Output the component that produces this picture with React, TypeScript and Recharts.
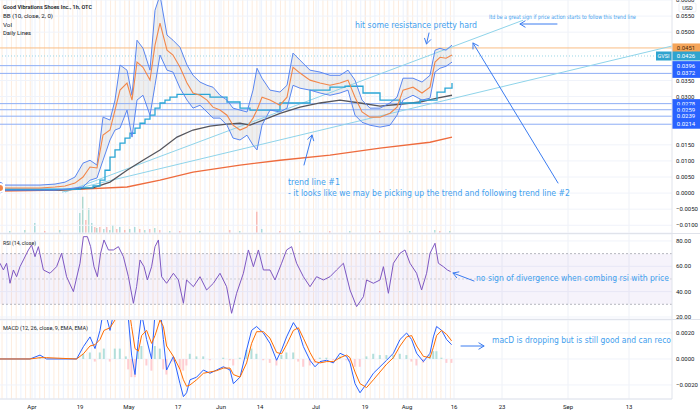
import React from 'react';
import {
  ComposedChart, Line, Area, Bar, Cell, XAxis, YAxis, CartesianGrid, ReferenceLine, ReferenceArea,
} from 'recharts';

// x is a bar index: the plot runs from bar 0 to bar 336 (last bar ~226, rest is future space)
const X_DOMAIN: [number, number] = [0, 336];
const xTicks = [16, 40, 64.5, 89, 110.5, 130, 158, 182.5, 203.5, 227, 251, 284, 314.5];
const xTickLabels = ['Apr', '19', 'May', '17', 'Jun', '14', 'Jul', '19', 'Aug', '16', '23', 'Sep', '13'];

// Bollinger bands (10, close, 2)
const bbBars = [0, 10, 20, 27.5, 32.5, 37.5, 41.5, 45, 48.5, 51.5, 55, 57.5, 60, 63.5, 66, 68.5, 71.5, 75, 77.5, 80,
  83.5, 86.5, 90, 93.5, 96.5, 100, 103.5, 106.5, 110, 113.5, 116.5, 120, 123.5, 126.5, 128.5, 131, 135, 140, 143.5, 146.5,
  150, 155, 160, 165, 170, 174, 177.5, 181, 185, 190, 195, 198.5, 201.5, 206.5, 211, 215, 217.5, 220, 223, 226];
const bbMid = [0.0016, 0.0016, 0.0016, 0.0019, 0.0022, 0.0031, 0.0050, 0.0081, 0.0078, 0.0180,
  0.0196, 0.0258, 0.0320, 0.0342, 0.0289, 0.0407, 0.0391, 0.0351, 0.0460, 0.0528,
  0.0444, 0.0429, 0.0391, 0.0342, 0.0311, 0.0304, 0.0289, 0.0267, 0.0258, 0.0242,
  0.0211, 0.0196, 0.0205, 0.0233, 0.0258, 0.0298, 0.0289, 0.0273, 0.0298, 0.0391,
  0.0373, 0.0351, 0.0342, 0.0335, 0.0342, 0.0351, 0.0298, 0.0252, 0.0236, 0.0236,
  0.0248, 0.0267, 0.0320, 0.0329, 0.0311, 0.0329, 0.0407, 0.0422, 0.0419, 0.0429];
const bbUpper = [0.0025, 0.0025, 0.0025, 0.0028, 0.0034, 0.0050, 0.0093, 0.0102, 0.0087, 0.0236,
  0.0227, 0.0289, 0.0398, 0.0382, 0.0304, 0.0475, 0.0450, 0.0382, 0.0568, 0.0615,
  0.0491, 0.0475, 0.0453, 0.0398, 0.0366, 0.0345, 0.0335, 0.0329, 0.0304, 0.0289,
  0.0264, 0.0258, 0.0252, 0.0320, 0.0388, 0.0357, 0.0320, 0.0314, 0.0335, 0.0435,
  0.0413, 0.0382, 0.0376, 0.0366, 0.0366, 0.0382, 0.0351, 0.0289, 0.0264, 0.0264,
  0.0280, 0.0298, 0.0357, 0.0357, 0.0345, 0.0366, 0.0444, 0.0450, 0.0444, 0.0460];
const bbLower = [0.0009, 0.0009, 0.0009, 0.0009, 0.0012, 0.0016, 0.0019, 0.0040, 0.0047, 0.0102,
  0.0165, 0.0196, 0.0202, 0.0258, 0.0174, 0.0289, 0.0304, 0.0242, 0.0335, 0.0429,
  0.0382, 0.0376, 0.0326, 0.0289, 0.0264, 0.0273, 0.0252, 0.0233, 0.0233, 0.0211,
  0.0171, 0.0165, 0.0180, 0.0149, 0.0134, 0.0211, 0.0258, 0.0252, 0.0264, 0.0335,
  0.0326, 0.0320, 0.0311, 0.0304, 0.0311, 0.0320, 0.0242, 0.0220, 0.0211, 0.0205,
  0.0211, 0.0242, 0.0289, 0.0304, 0.0289, 0.0295, 0.0376, 0.0388, 0.0394, 0.0407];

// daily lines
const cyanBars = [0, 30, 40, 46.5, 50, 52.5, 55, 57.5, 60, 62.5, 65, 67.5, 70, 72.5, 75, 77.5, 80, 82.5, 85, 88.5,
  96.5, 105, 113.5, 120, 125, 130, 140, 155, 165, 172.5, 181.5, 190, 200, 210, 218.5, 222.5, 226];
const cyanVals = [0.0012, 0.0012, 0.0016, 0.0022, 0.0040, 0.0071, 0.0112, 0.0134, 0.0155, 0.0171,
  0.0186, 0.0202, 0.0217, 0.0230, 0.0242, 0.0264, 0.0280, 0.0289, 0.0298, 0.0307,
  0.0307, 0.0298, 0.0283, 0.0264, 0.0258, 0.0258, 0.0280, 0.0320, 0.0329, 0.0332,
  0.0311, 0.0289, 0.0280, 0.0289, 0.0314, 0.0326, 0.0342];
const grayBars = [0, 30, 46.5, 55, 63.5, 71.5, 80, 88.5, 96.5, 105, 113.5, 120, 125, 131.5, 140, 150, 160, 170, 180, 190, 200, 210, 218.5, 226];
const grayVals = [0.0009, 0.0009, 0.0016, 0.0034, 0.0071, 0.0102, 0.0134, 0.0174, 0.0196, 0.0208, 0.0214, 0.0217,
  0.0211, 0.0227, 0.0248, 0.0267, 0.0280, 0.0289, 0.0280, 0.0270, 0.0276, 0.0283, 0.0295, 0.0304];
const redBars = [0, 30, 63.5, 80, 96.5, 120, 140, 165, 190, 215, 226];
const redVals = [0.0006, 0.0009, 0.0019, 0.0040, 0.0065, 0.0087, 0.0102, 0.0118, 0.0140, 0.0158, 0.0174];

// drawn levels and trend lines
const orangeLevels = [0.0451];
const blueLevels = [0.0396, 0.0372, 0.0278, 0.0259, 0.0239, 0.0214];
const lastPrice = 0.0426;
const trendLines = [
  [{ x: 31, y: 0.0003 }, { x: 336, y: 0.0457 }],
  [{ x: 32.5, y: 0.0003 }, { x: 261.5, y: 0.0537 }],
];

// volume (thousands)
const volBars = [5, 12.5, 17.5, 22.5, 30, 40, 41.5, 43, 44.5, 46, 47.5, 48.5, 50, 52, 53.5, 55, 56.5, 58.5, 60, 62.5,
  65, 67.5, 70, 72.5, 75, 77.5, 80, 85, 90, 100, 115, 120, 128.5, 131, 140, 150, 165, 175, 190, 205, 217.5, 220, 225];
const volVals = [56, 84, 280, 56, 84, 560, 1010, 364, 700, 280, 168, 140, 168, 112, 168, 84, 224, 112, 168, 84,
  112, 168, 112, 84, 112, 140, 84, 56, 56, 56, 84, 56, 590, 112, 56, 56, 56, 56, 56, 56, 84, 56, 56];
const volUp = [1, 1, 1, 0, 1, 1, 1, 0, 1, 1, 0, 1, 0, 1, 0, 1, 1, 0, 1, 0,
  1, 1, 0, 1, 0, 1, 0, 1, 0, 1, 0, 1, 0, 1, 0, 1, 0, 1, 0, 1, 1, 0, 1];

// RSI (14, close)
const rsiBars = [0, 1.7, 3.3, 5, 6.7, 8.3, 10, 11.7, 14.2, 15.8, 17.5, 19.2, 21.7, 25, 28.3, 30.8, 33.3, 36.7, 40, 41.7,
  43.7, 45.3, 47, 48.7, 50.3, 52, 54.2, 56.7, 59.2, 61.7, 64.2, 66.7, 68.3, 70, 72, 73.7, 75.8, 77.5, 79.2, 80.8,
  83.3, 86.7, 89.2, 91.7, 93.3, 96.7, 100, 103.3, 106.7, 110, 113.3, 115.8, 118.3, 121.7, 124.2, 126.7, 129.2, 131.7, 135, 137.5,
  140.8, 143.3, 145.8, 148.3, 151.7, 155, 158.3, 161.7, 165, 168.3, 171.7, 175, 178.3, 181.7, 183.3, 186.7, 190, 191.7, 194.2, 196.7,
  200, 202.5, 205, 208.3, 210.8, 213.3, 215, 217.5, 219.2, 221.7, 223.7, 225.3];
const rsiVals = [62.4, 57.1, 62.4, 46.6, 57.1, 51.8, 59.7, 65, 72.9, 76.8, 67.6, 75.5, 57.1, 54.5, 59.7, 70.3, 51.8, 40, 62.4, 83.4,
  83.4, 75.5, 59.7, 51.8, 70.3, 80.8, 72.9, 72.9, 75.5, 67.6, 51.8, 30.8, 43.9, 65, 59.7, 49.2, 59.7, 75.5, 80.8, 51.8,
  46.6, 54.5, 49.2, 30.8, 49.2, 43.9, 51.8, 41.3, 46.6, 54.5, 43.9, 22.9, 38.7, 54.5, 72.9, 59.7, 72.9, 57.1, 57.1, 49.2,
  62.4, 72.9, 75.5, 62.4, 51.8, 43.9, 51.8, 49.2, 51.8, 57.1, 62.4, 41.3, 28.2, 36, 49.2, 46.6, 49.2, 59.7, 38.7, 62.4,
  70.3, 72.9, 62.4, 54.5, 41.3, 54.5, 70.3, 78.2, 62.4, 59.7, 57.1, 55.8];

// MACD (12, 26, close, 9)
const macdBars = [0, 15, 20, 23.3, 38.3, 41.7, 45, 47.5, 50, 52, 55, 57.5, 60, 63, 64.2, 65.8, 67.5, 69.2, 70.8, 73.3,
  75.8, 77.5, 80, 81.7, 83.3, 86.7, 90, 91.7, 93.3, 95, 98.3, 101.7, 105, 108.3, 111.7, 115, 116.7, 120, 123.3, 125.8,
  128.3, 131.7, 135, 138.3, 140.8, 143.3, 146.7, 149.2, 151.7, 155, 157.5, 160, 163.3, 166.7, 170, 173.3, 175, 177.5, 180, 183.3,
  186.7, 190, 193.3, 196.7, 200, 203.3, 205.8, 208.3, 211.7, 215, 216.7, 218.3, 220.8, 223.3, 225.8];
const macdVals = [0, 0, 0.0003, 0, 0, 0.00095, 0.0017, 0.0008, 0.0022, 0.004, 0.0022, 0.004, 0.006, 0.005, 0.0031, 0.0003, -0.0012, 0.0015, 0.0035, 0.0015,
  0, 0.0035, 0.004, 0.0015, -0.00085, 0.0002, -0.0019, -0.0029, -0.0026, -0.0016, -0.0014, -0.00085, -0.0011, -0.00085, -0.0006, -0.00085, -0.0019, -0.0014, 0.0007, 0.0022,
  0.0025, 0.002, 0.0012, -0.0001, 0.0007, 0.0017, 0.0028, 0.0022, 0.00095, -0.0001, -0.0006, -0.0002, -0.0001, -0.0003, 0.00044, 0.0002, -0.0003, -0.0019, -0.0026, -0.0019,
  -0.0011, -0.0006, -0.0001, 0.00044, 0.0015, 0.002, 0.0015, 0.00044, -0.0002, 0.00044, 0.0017, 0.0025, 0.0022, 0.0015, 0.0011];
const signalVals = [0, 0, 0.0001, 0.0001, 0, 0.0004, 0.001, 0.0011, 0.0015, 0.0022, 0.0024, 0.003, 0.0042, 0.0048, 0.0042, 0.0025, 0.0008, 0.0006, 0.0018, 0.0022,
  0.0012, 0.0018, 0.003, 0.0025, 0.001, 0.0002, -0.0008, -0.0016, -0.0021, -0.002, -0.0016, -0.0011, -0.001, -0.0009, -0.0007, -0.0007, -0.0012, -0.0014, -0.0003, 0.0012,
  0.0021, 0.0021, 0.0016, 0.0005, 0.0004, 0.0011, 0.0022, 0.0024, 0.0016, 0.0005, -0.0002, -0.0003, -0.0002, -0.0002, 0.0001, 0.0003, 0.0001, -0.001, -0.0019, -0.0022,
  -0.0016, -0.001, -0.0004, 0.0001, 0.001, 0.0017, 0.0018, 0.001, 0.0002, 0.0001, 0.0009, 0.0018, 0.0022, 0.0019, 0.0014];
const histVals = [0, 0, 0.0001, 0, 0, 0.0004, 0.0005, -0.0002, 0.0005, 0.0008, -0.0002, 0.0008, 0.0008, 0.0002, -0.0008, -0.0014, -0.0014, 0.0006, 0.001, -0.0005,
  -0.0009, 0.001, 0.0008, -0.0008, -0.0012, -0.0002, -0.0008, -0.0009, -0.0005, 0.0004, 0.0002, 0.0002, -0.0001, 0, 0.0001, -0.0001, -0.0005, 0.0001, 0.0007, 0.0008,
  0.0004, -0.0001, -0.0003, -0.0005, 0.0003, 0.0005, 0.0005, -0.0002, -0.0006, -0.0005, -0.0003, 0.0001, 0.0001, -0.0001, 0.0002, -0.0001, -0.0002, -0.0006, -0.0006, 0.0002,
  0.0004, 0.0003, 0.0003, 0.0003, 0.0004, 0.0003, -0.0002, -0.0005, -0.0003, 0.0003, 0.0006, 0.0006, 0.0001, -0.0003, -0.0003];

const priceTicks = [-0.01, -0.005, 0, 0.005, 0.01, 0.015, 0.03, 0.035, 0.05, 0.055, 0.06];

const bbRows = bbBars.map((bar, i) => ({ bar, up: bbUpper[i], mid: bbMid[i], low: bbLower[i], band: [bbLower[i], bbUpper[i]] }));
const pairRows = (bars: number[], vals: number[]) => bars.map((bar, i) => ({ bar, v: vals[i] }));
const cyanRows = pairRows(cyanBars, cyanVals);
const grayRows = pairRows(grayBars, grayVals);
const redRows = pairRows(redBars, redVals);
const volRows = volBars.map((bar, i) => ({ bar, vol: volVals[i], up: volUp[i] === 1 }));
const rsiRows = pairRows(rsiBars, rsiVals);
const macdRows = macdBars.map((bar, i) => ({ bar, macd: macdVals[i], signal: signalVals[i], hist: histVals[i] }));

// one pale line per session (Daily Lines indicator)
const dayLines = Array.from({ length: 96 }, (_, i) => 1 + i * 2.36).filter((d) => d <= 226);

const PLOT_W = 672;
const FONT = 'Roboto, sans-serif';
const NOTE_FONT = "'Liberation Sans Narrow', 'DejaVu Sans Condensed', 'Open Sans', sans-serif";
const TEXT = '#131722';
const NOTE = '#42a0ee';
const ARROW = '#3b7cf0';

const fmt4 = (v: number) => (v < 0 ? '\u2212' + Math.abs(v).toFixed(4) : v.toFixed(4));
const tickStyle = { fontSize: 6, fill: TEXT, fontFamily: FONT };
const barToPx = (b: number) => (b - X_DOMAIN[0]) / (X_DOMAIN[1] - X_DOMAIN[0]) * PLOT_W;

function LevelTag(props: any) {
  const { viewBox, txt, bg, fg, prefix } = props;
  if (!viewBox) return null;
  const x = viewBox.x + viewBox.width;
  const y = viewBox.y;
  return (
    <g>
      {prefix ? <rect x={x - 16} y={y - 4.5} width={16} height={9} fill={bg} /> : null}
      {prefix ? <text x={x - 14.5} y={y + 2} fontSize={5.5} fill={fg} fontFamily={FONT}>{prefix}</text> : null}
      <rect x={x} y={y - 4.5} width={28} height={9} fill={bg} />
      <text x={x + 14} y={y + 2.1} fontSize={6} textAnchor="middle" fill={fg} fontFamily={FONT}>{txt}</text>
    </g>
  );
}

function Arrow({ x1, y1, x2, y2 }: { x1: number; y1: number; x2: number; y2: number }) {
  const a = Math.atan2(y2 - y1, x2 - x1);
  const L = 6;
  const p1 = [x2 - L * Math.cos(a - 0.55), y2 - L * Math.sin(a - 0.55)];
  const p2 = [x2 - L * Math.cos(a + 0.55), y2 - L * Math.sin(a + 0.55)];
  return (
    <g stroke={ARROW} strokeWidth={1} fill="none" strokeLinecap="round">
      <line x1={x1} y1={y1} x2={x2} y2={y2} />
      <polyline points={`${p1[0]},${p1[1]} ${x2},${y2} ${p2[0]},${p2[1]}`} />
    </g>
  );
}

const notes = [
  { text: 'hit some resistance pretty hard', x: 355, y: 28, size: 9.5, len: 122 },
  { text: 'Itd be a great sign if price action starts to follow this trend line', x: 489, y: 19, size: 6, len: 147 },
  { text: 'trend line #1', x: 288, y: 185, size: 8.5, len: 52 },
  { text: '- it looks like we may be picking up the trend and following trend line #2', x: 288, y: 195.5, size: 8.5, len: 282 },
  { text: 'no sign of divergence when combing rsi with price', x: 476, y: 281, size: 9, len: 193 },
  { text: 'macD is dropping but is still good and can reco', x: 492, y: 342.5, size: 9, len: 179 },
];
const arrows = [
  { x1: 429, y1: 33, x2: 426.5, y2: 44 },
  { x1: 557, y1: 24, x2: 520, y2: 24 },
  { x1: 558, y1: 183, x2: 473, y2: 43 },
  { x1: 304, y1: 165, x2: 312, y2: 135 },
  { x1: 474, y1: 281, x2: 453, y2: 273 },
  { x1: 461, y1: 346, x2: 484, y2: 346 },
];

const legend = [
  { text: 'Good Vibrations Shoes Inc., 1h, OTC', y: 9, len: 89, bold: true },
  { text: 'BB (10, close, 2, 0)', y: 18, len: 50, bold: false },
  { text: 'Vol', y: 26.5, len: 9, bold: false },
  { text: 'Daily Lines', y: 35, len: 28, bold: false },
  { text: 'RSI (14, close)', y: 245, len: 33, bold: false },
  { text: 'MACD (12, 26, close, 9, EMA, EMA)', y: 329.5, len: 85, bold: false },
];

const hiddenX = <XAxis type="number" dataKey="bar" domain={X_DOMAIN} hide allowDataOverflow />;

export default function App() {
  return (
    <div style={{ position: 'absolute', left: 0, top: 0, width: 700, height: 413, background: '#fff', overflow: 'hidden' }}>
      {/* background: session lines and time grid */}
      <svg width={700} height={413} style={{ position: 'absolute', left: 0, top: 0 }}>
        {xTicks.map((t) => (
          <line key={'g' + t} x1={barToPx(t)} x2={barToPx(t)} y1={0} y2={399} stroke="#eef1f7" />
        ))}
        {dayLines.map((d, i) => (
          <line key={'d' + i} x1={barToPx(d)} x2={barToPx(d)} y1={0} y2={399}
            stroke={i % 3 === 1 ? '#e6edfc' : '#fde7d6'} strokeWidth={0.8} />
        ))}
      </svg>

      {/* volume */}
      <div style={{ position: 'absolute', left: 0, top: 0 }}>
        <ComposedChart width={700} height={233} data={volRows} margin={{ top: 0, right: 28, bottom: 0, left: 0 }}>
          {hiddenX}
          <YAxis hide domain={[0, 6500]} />
          <Bar dataKey="vol" barSize={1.5} isAnimationActive={false}>
            {volRows.map((r, i) => (
              <Cell key={i} fill={r.up ? 'rgba(38,166,154,0.35)' : 'rgba(239,83,80,0.35)'} />
            ))}
          </Bar>
        </ComposedChart>
      </div>

      {/* price pane */}
      <div style={{ position: 'absolute', left: 0, top: 0 }}>
        <ComposedChart width={700} height={233} data={bbRows} margin={{ top: 0, right: 0, bottom: 0, left: 0 }}>
          <CartesianGrid stroke="#f0f3fa" vertical={false} />
          {hiddenX}
          <YAxis orientation="right" width={28} domain={[-0.0124, 0.06]} ticks={priceTicks} interval={0} allowDataOverflow
            tickFormatter={fmt4} axisLine={{ stroke: '#e0e3eb' }} tickLine={false} tickSize={3} tickMargin={1} tick={tickStyle} />
          {blueLevels.map((lv) => (
            <ReferenceLine key={'b' + lv} y={lv} stroke="#8eaef5" strokeWidth={1}
              label={<LevelTag txt={lv.toFixed(4)} bg="#2962ff" fg="#ffffff" />} />
          ))}
          {orangeLevels.map((lv) => (
            <ReferenceLine key={'o' + lv} y={lv} stroke="#f9bd85" strokeWidth={1}
              label={<LevelTag txt={lv.toFixed(4)} bg="#f5a55a" fg="#4a2a0c" />} />
          ))}
          <ReferenceLine y={lastPrice} stroke="#9ad6e6" strokeDasharray="1 2" strokeWidth={1}
            label={<LevelTag txt={lastPrice.toFixed(4)} bg="#2fa4cf" fg="#ffffff" prefix="GVSI" />} />
          {trendLines.map((seg, i) => (
            <ReferenceLine key={'t' + i} segment={seg} stroke="#8fd4ea" strokeWidth={1} ifOverflow="hidden" />
          ))}
          <Area dataKey="band" type="linear" stroke="none" fill="#aeb6c0" fillOpacity={0.22} isAnimationActive={false} />
          <Line data={redRows} dataKey="v" type="linear" stroke="#ee6b3d" strokeWidth={1.3} dot={false} isAnimationActive={false} />
          <Line data={grayRows} dataKey="v" type="linear" stroke="#55555c" strokeWidth={1.3} dot={false} isAnimationActive={false} />
          <Line data={cyanRows} dataKey="v" type="stepAfter" stroke="#2aa6d6" strokeWidth={1.3} dot={false} isAnimationActive={false} />
          <Line dataKey="up" type="linear" stroke="#5a86f0" strokeWidth={1} dot={false} isAnimationActive={false} />
          <Line dataKey="low" type="linear" stroke="#5a86f0" strokeWidth={1} dot={false} isAnimationActive={false} />
          <Line dataKey="mid" type="linear" stroke="#f2874a" strokeWidth={1.1} dot={false} isAnimationActive={false} />
        </ComposedChart>
      </div>

      {/* RSI pane */}
      <div style={{ position: 'absolute', left: 0, top: 234 }}>
        <ComposedChart width={700} height={85} data={rsiRows} margin={{ top: 0, right: 0, bottom: 0, left: 0 }}>
          <CartesianGrid stroke="#f0f3fa" vertical={false} />
          {hiddenX}
          <YAxis orientation="right" width={28} domain={[18.4, 85.5]} ticks={[20, 40, 60, 80]} interval={0} allowDataOverflow
            tickFormatter={(v: number) => v.toFixed(2)} axisLine={{ stroke: '#e0e3eb' }} tickLine={false} tickSize={3} tickMargin={1} tick={tickStyle} />
          <ReferenceArea y1={30} y2={70} fill="#7e57c2" fillOpacity={0.07} stroke="none" />
          <ReferenceLine y={70} stroke="#a3a6af" strokeDasharray="2 2" strokeWidth={0.8} />
          <ReferenceLine y={50} stroke="#c3c5cb" strokeDasharray="2 2" strokeWidth={0.8} />
          <ReferenceLine y={30} stroke="#a3a6af" strokeDasharray="2 2" strokeWidth={0.8} />
          <Line dataKey="v" type="linear" stroke="#7e57c2" strokeWidth={1} dot={false} isAnimationActive={false} />
        </ComposedChart>
      </div>

      {/* MACD pane + time axis */}
      <div style={{ position: 'absolute', left: 0, top: 320 }}>
        <ComposedChart width={700} height={93} data={macdRows} margin={{ top: 0, right: 0, bottom: 0, left: 0 }}>
          <CartesianGrid stroke="#f0f3fa" vertical={false} />
          <XAxis type="number" dataKey="bar" domain={X_DOMAIN} ticks={xTicks} interval={0} allowDataOverflow height={14}
            tickFormatter={(v: number) => xTickLabels[xTicks.indexOf(v)] ?? ''} axisLine={{ stroke: '#e0e3eb' }}
            tickLine={false} tickSize={4} tickMargin={2} tick={tickStyle} />
          <YAxis orientation="right" width={28} domain={[-0.00308, 0.003]} ticks={[-0.002, 0, 0.002]} interval={0} allowDataOverflow
            tickFormatter={fmt4} axisLine={{ stroke: '#e0e3eb' }} tickLine={false} tickSize={3} tickMargin={1} tick={tickStyle} />
          <Bar dataKey="hist" barSize={2} isAnimationActive={false}>
            {macdRows.map((r, i) => (
              <Cell key={i} fill={r.hist >= 0 ? '#b2dfdb' : '#ffcdd2'} />
            ))}
          </Bar>
          <Line dataKey="macd" type="linear" stroke="#2962ff" strokeWidth={1} dot={false} isAnimationActive={false} />
          <Line dataKey="signal" type="linear" stroke="#ff6d00" strokeWidth={1} dot={false} isAnimationActive={false} />
        </ComposedChart>
      </div>

      {/* legends, pane borders and drawings */}
      <svg width={700} height={413} style={{ position: 'absolute', left: 0, top: 0, pointerEvents: 'none' }}>
        <defs>
          <clipPath id="plotClip">
            <rect x={0} y={0} width={PLOT_W} height={399} />
          </clipPath>
        </defs>
        <line x1={0} y1={233.5} x2={700} y2={233.5} stroke="#e0e3eb" />
        <line x1={0} y1={319.5} x2={700} y2={319.5} stroke="#e0e3eb" />
        <rect x={679} y={3} width={17} height={9} rx={1.5} fill="#fff" stroke="#e0e3eb" strokeWidth={0.6} />
        <text x={687.5} y={9.8} fontSize={5.5} textAnchor="middle" fill={TEXT} fontFamily={FONT}>USD</text>
        {legend.map((l) => (
          <text key={l.text} x={3} y={l.y} fontSize={6} fill={TEXT} fontFamily={FONT} fontWeight={l.bold ? 600 : 400}
            textLength={l.len} lengthAdjust="spacingAndGlyphs">{l.text}</text>
        ))}
        <g clipPath="url(#plotClip)">
          {notes.map((n) => (
            <text key={n.text} x={n.x} y={n.y} fontSize={n.size} fill={NOTE} fontFamily={NOTE_FONT}
              textLength={n.len} lengthAdjust="spacingAndGlyphs">{n.text}</text>
          ))}
          {arrows.map((a, i) => (
            <Arrow key={i} {...a} />
          ))}
        </g>
      </svg>
    </div>
  );
}
